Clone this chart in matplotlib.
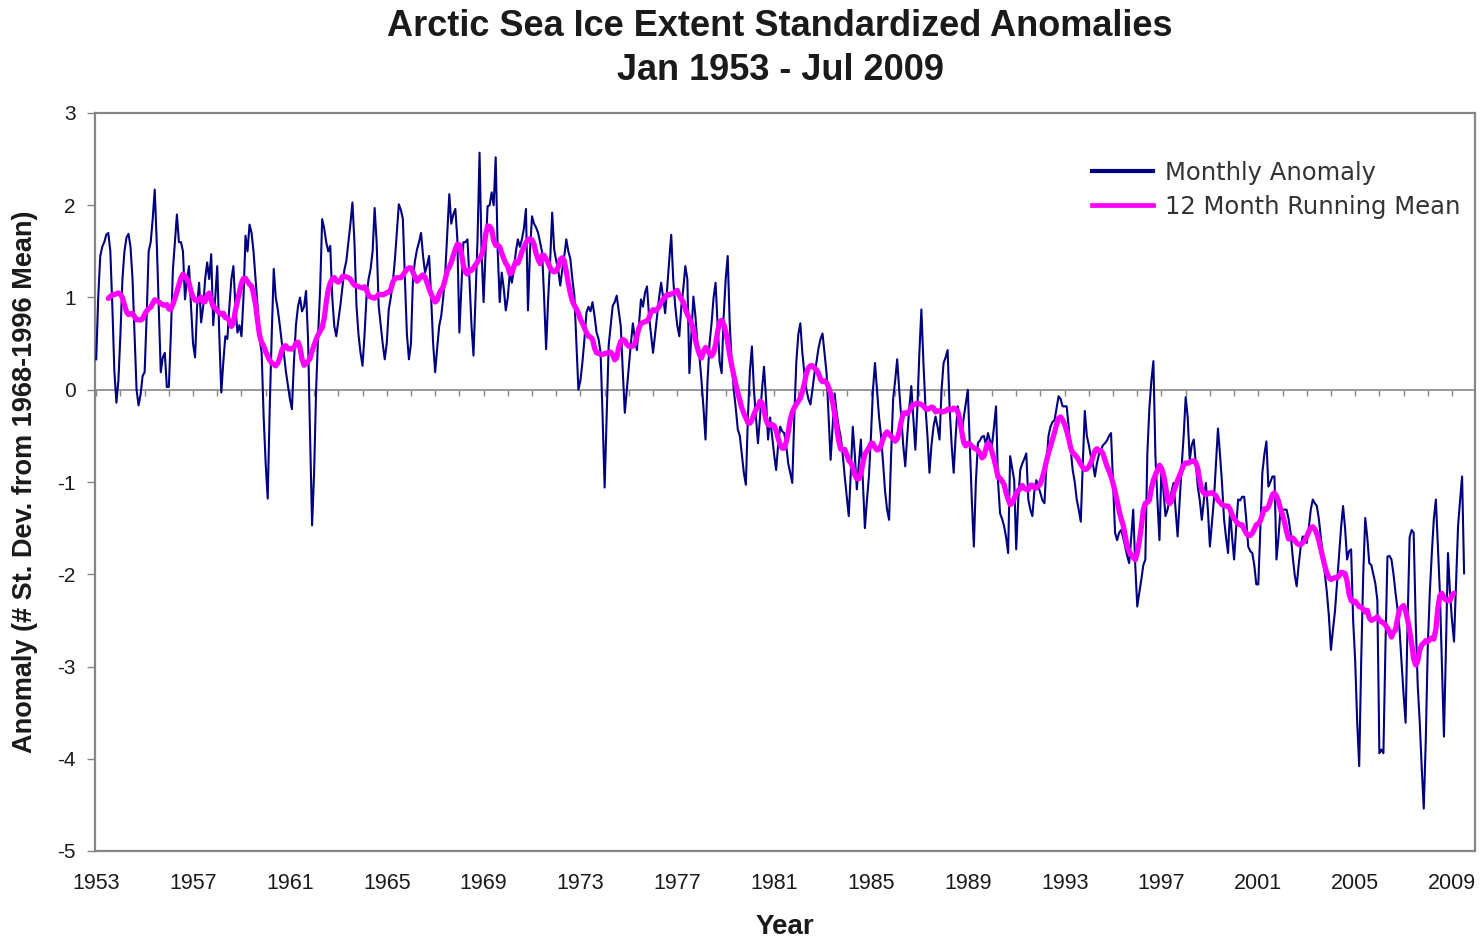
import numpy as np
import pandas as pd
import matplotlib
matplotlib.use("Agg")
import matplotlib.pyplot as plt
from matplotlib.lines import Line2D

# ---------------- data ----------------
start_year = 1953
title_lines = ["Arctic Sea Ice Extent Standardized Anomalies", "Jan 1953 - Jul 2009"]
y_label = "Anomaly (# St. Dev. from 1968-1996 Mean)"
x_label = "Year"
series_names = ["Monthly Anomaly", "12 Month Running Mean"]
x_tick_labels = [1953, 1957, 1961, 1965, 1969, 1973, 1977, 1981, 1985,
                 1989, 1993, 1997, 2001, 2005, 2009]
y_ticks = [-5, -4, -3, -2, -1, 0, 1, 2, 3]

# monthly anomalies, Jan 1953 .. Jul 2009 (one row per year)
monthly_anomaly = [
    0.33, 1.00, 1.45, 1.55, 1.60, 1.68, 1.70, 1.50, 0.90, 0.20, -0.14, 0.10,      # 1953
    0.60, 1.20, 1.50, 1.65, 1.69, 1.55, 1.20, 0.60, 0.00, -0.17, -0.05, 0.15,     # 1954
    0.19, 0.80, 1.50, 1.60, 1.85, 2.17, 1.60, 0.90, 0.19, 0.35, 0.40, 0.03,       # 1955
    0.03, 0.60, 1.30, 1.60, 1.90, 1.60, 1.60, 1.50, 0.98, 1.20, 1.34, 0.90,       # 1956
    0.50, 0.35, 0.90, 1.16, 0.73, 0.90, 1.20, 1.38, 1.20, 1.47, 0.70, 1.00,       # 1957
    1.34, 0.60, -0.03, 0.30, 0.58, 0.55, 0.90, 1.20, 1.34, 0.90, 0.62, 0.70,      # 1958
    0.58, 1.00, 1.67, 1.50, 1.79, 1.70, 1.49, 1.20, 0.90, 0.55, 0.40, -0.30,      # 1959
    -0.80, -1.18, -0.20, 0.60, 1.31, 1.00, 0.87, 0.70, 0.51, 0.40, 0.20, 0.05,    # 1960
    -0.10, -0.21, 0.30, 0.70, 0.90, 1.00, 0.85, 0.90, 1.07, 0.55, -0.50, -1.47,   # 1961
    -0.90, 0.00, 0.60, 1.10, 1.85, 1.75, 1.60, 1.50, 1.56, 1.00, 0.69, 0.58,      # 1962
    0.75, 0.91, 1.10, 1.30, 1.40, 1.60, 1.80, 2.03, 1.60, 0.91, 0.60, 0.40,       # 1963
    0.26, 0.60, 1.02, 1.20, 1.31, 1.50, 1.97, 1.60, 0.91, 0.70, 0.50, 0.33,       # 1964
    0.50, 0.87, 1.00, 1.16, 1.40, 1.70, 2.01, 1.95, 1.85, 1.20, 0.60, 0.33,       # 1965
    0.50, 1.20, 1.40, 1.52, 1.60, 1.70, 1.45, 1.27, 1.35, 1.45, 1.00, 0.50,       # 1966
    0.19, 0.45, 0.69, 0.80, 1.00, 1.27, 1.70, 2.12, 1.80, 1.90, 1.96, 1.63,       # 1967
    0.62, 1.10, 1.60, 1.60, 1.63, 1.20, 0.70, 0.37, 1.00, 1.63, 2.57, 1.50,       # 1968
    0.95, 1.50, 1.99, 2.00, 2.14, 2.00, 2.52, 1.50, 0.95, 1.27, 1.10, 0.86,       # 1969
    1.00, 1.27, 1.16, 1.30, 1.50, 1.63, 1.55, 1.63, 1.75, 1.96, 0.86, 1.50,       # 1970
    1.88, 1.80, 1.76, 1.70, 1.60, 1.49, 1.00, 0.44, 0.98, 1.40, 1.92, 1.52,       # 1971
    1.40, 1.30, 1.13, 1.30, 1.45, 1.63, 1.50, 1.42, 1.20, 1.02, 0.50, 0.00,       # 1972
    0.10, 0.30, 0.55, 0.84, 0.90, 0.85, 0.95, 0.80, 0.62, 0.55, 0.40, -0.30,      # 1973
    -1.06, -0.30, 0.48, 0.70, 0.91, 0.95, 1.02, 0.85, 0.69, 0.20, -0.25, 0.00,    # 1974
    0.25, 0.50, 0.72, 0.55, 0.43, 0.70, 0.98, 0.90, 1.05, 1.12, 0.80, 0.60,       # 1975
    0.40, 0.60, 0.80, 1.00, 1.16, 1.00, 0.83, 1.10, 1.40, 1.68, 1.20, 0.90,       # 1976
    0.70, 0.58, 0.90, 1.10, 1.34, 1.20, 0.18, 0.60, 1.01, 0.80, 0.50, 0.36,       # 1977
    0.10, -0.20, -0.54, 0.10, 0.50, 0.72, 1.00, 1.16, 0.70, 0.30, 0.18, 0.80,     # 1978
    1.20, 1.45, 0.72, 0.30, 0.00, -0.20, -0.43, -0.50, -0.70, -0.90, -1.03, -0.30,      # 1979
    0.20, 0.47, 0.00, -0.30, -0.58, -0.30, 0.00, 0.25, -0.10, -0.54, -0.30, -0.50,      # 1980
    -0.70, -0.87, -0.60, -0.40, -0.45, -0.47, -0.60, -0.80, -0.90, -1.01, -0.30, 0.30,  # 1981
    0.60, 0.72, 0.40, 0.18, 0.00, -0.10, -0.16, 0.00, 0.18, 0.30, 0.45, 0.55,          # 1982
    0.61, 0.40, 0.18, -0.30, -0.76, -0.40, -0.04, -0.25, -0.40, -0.51, -0.70, -0.94,    # 1983
    -1.15, -1.37, -0.90, -0.40, -0.70, -1.08, -0.80, -0.54, -1.00, -1.50, -1.20, -0.94, # 1984
    -0.50, 0.00, 0.29, 0.00, -0.29, -0.50, -0.79, -1.10, -1.30, -1.41, -0.70, -0.10,    # 1985
    0.10, 0.33, 0.00, -0.29, -0.60, -0.83, -0.50, -0.20, 0.04, -0.30, -0.65, -0.20,     # 1986
    0.40, 0.87, 0.30, -0.18, -0.50, -0.90, -0.60, -0.40, -0.29, -0.40, -0.54, 0.00,     # 1987
    0.29, 0.35, 0.43, -0.20, -0.60, -0.90, -0.50, -0.18, -0.30, -0.47, -0.30, -0.15,    # 1988
    0.00, -0.60, -1.20, -1.70, -1.00, -0.58, -0.55, -0.51, -0.50, -0.60, -0.47, -0.55,  # 1989
    -0.60, -0.40, -0.18, -1.00, -1.34, -1.40, -1.48, -1.60, -1.77, -0.72, -0.85, -0.98, # 1990
    -1.73, -1.20, -0.87, -0.80, -0.75, -0.69, -1.19, -1.30, -1.37, -1.10, -0.98, -1.05, # 1991
    -1.12, -1.20, -1.23, -0.80, -0.50, -0.40, -0.35, -0.33, -0.20, -0.07, -0.10, -0.18, # 1992
    -0.18, -0.18, -0.40, -0.65, -0.87, -1.00, -1.19, -1.30, -1.43, -0.80, -0.23, -0.50, # 1993
    -0.60, -0.72, -0.80, -0.94, -0.80, -0.70, -0.65, -0.60, -0.58, -0.55, -0.50, -0.47, # 1994
    -1.00, -1.55, -1.63, -1.55, -1.52, -1.60, -1.70, -1.80, -1.88, -1.60, -1.30, -1.90, # 1995
    -2.35, -2.20, -2.06, -1.90, -1.84, -0.69, -0.20, 0.10, 0.31, -0.72, -1.20, -1.63,   # 1996
    -0.83, -1.10, -1.37, -1.30, -1.19, -1.10, -1.01, -1.30, -1.59, -1.20, -0.83, -0.50, # 1997
    -0.08, -0.30, -0.76, -0.60, -0.54, -0.80, -1.05, -1.20, -1.41, -1.20, -1.01, -1.30, # 1998
    -1.70, -1.45, -1.19, -0.80, -0.42, -0.70, -1.01, -1.40, -1.60, -1.77, -1.30, -1.60, # 1999
    -1.84, -1.50, -1.19, -1.20, -1.16, -1.16, -1.40, -1.70, -1.75, -1.77, -1.90, -2.11, # 2000
    -2.11, -1.50, -0.90, -0.70, -0.56, -1.05, -1.00, -0.94, -0.94, -1.84, -1.60, -1.30, # 2001
    -1.30, -1.30, -1.30, -1.40, -1.55, -1.80, -2.00, -2.13, -1.90, -1.70, -1.59, -1.60, # 2002
    -1.66, -1.50, -1.30, -1.19, -1.23, -1.26, -1.40, -1.60, -1.80, -2.00, -2.20, -2.46, # 2003
    -2.82, -2.60, -2.40, -2.10, -1.80, -1.50, -1.26, -1.50, -1.84, -1.75, -1.73, -2.50, # 2004
    -2.93, -3.60, -4.08, -2.93, -2.00, -1.39, -1.60, -1.88, -1.90, -2.00, -2.10, -2.28, # 2005
    -3.94, -3.90, -3.94, -2.80, -1.81, -1.80, -1.84, -2.00, -2.20, -2.38, -2.60, -2.96, # 2006
    -3.30, -3.61, -2.50, -1.60, -1.52, -1.55, -2.50, -3.20, -3.60, -4.10, -4.54, -3.80, # 2007
    -2.78, -2.20, -1.77, -1.40, -1.19, -1.70, -2.20, -3.00, -3.76, -2.80, -1.77, -2.20, # 2008
    -2.50, -2.73, -2.10, -1.48, -1.20, -0.94, -1.99,                                    # 2009
]
# ----------------------------------------------------------------

anomaly = pd.Series(monthly_anomaly, dtype=float)
months = np.arange(len(anomaly))
t = start_year + months / 12.0
running_mean = anomaly.rolling(12, center=True).mean()

fig = plt.figure(figsize=(14.83, 9.38), dpi=100)
ax = fig.add_axes([95 / 1483, 87 / 938, 1380 / 1483, 738 / 938])

navy = "#000080"
magenta = "#FF00FF"
grey = "#868686"
txt = "#1a1a1a"
tick_font = "Liberation Sans"

ax.plot(t, anomaly, color=navy, lw=1.5, zorder=3)
ax.plot(t, running_mean, color=magenta, lw=3.8, zorder=4,
        solid_capstyle="round", solid_joinstyle="round")

# zero line with yearly tick marks
ax.axhline(0, color=grey, lw=1.2, zorder=1)
year_marks = np.arange(start_year, start_year + 57)
ax.plot(year_marks, np.zeros_like(year_marks), ls="none", marker=3, ms=4,
        mew=1.0, color=grey, zorder=1)

ax.set_xlim(1952.95, 2009.95)
ax.set_ylim(-5, 3)
ax.set_yticks(y_ticks)
ax.set_yticklabels([str(v) for v in y_ticks], fontfamily=tick_font,
                   fontsize=15, color=txt)
ax.set_xticks(x_tick_labels)
ax.set_xticklabels([str(v) for v in x_tick_labels], fontfamily=tick_font,
                   fontsize=15.5, color=txt)
ax.tick_params(axis="x", length=0, pad=16)
ax.tick_params(axis="y", length=6, width=1.0, color=grey, pad=8)

for s in ax.spines.values():
    s.set_color(grey)
    s.set_linewidth(1.6)

ax.set_xlabel(x_label, fontfamily=tick_font, fontweight="bold", fontsize=20,
              color=txt, labelpad=14)
ax.set_ylabel(y_label, fontfamily=tick_font, fontweight="bold", fontsize=19.5,
              color=txt, labelpad=14)

fig.text(0.526, 0.972, title_lines[0], ha="center", va="center",
         fontfamily=tick_font, fontweight="bold", fontsize=26, color=txt)
fig.text(0.526, 0.925, title_lines[1], ha="center", va="center",
         fontfamily=tick_font, fontweight="bold", fontsize=26, color=txt)

handles = [Line2D([], [], color=navy, lw=3.0),
           Line2D([], [], color=magenta, lw=3.4)]
leg = ax.legend(handles, series_names, loc="upper right", frameon=False,
                prop={"family": "DejaVu Sans", "size": 17.5},
                handlelength=2.5, handletextpad=0.5, labelspacing=0.42,
                bbox_to_anchor=(1.0, 0.955), borderaxespad=0.2)
for tx in leg.get_texts():
    tx.set_color("#333333")

fig.savefig("out.png", dpi=100)
